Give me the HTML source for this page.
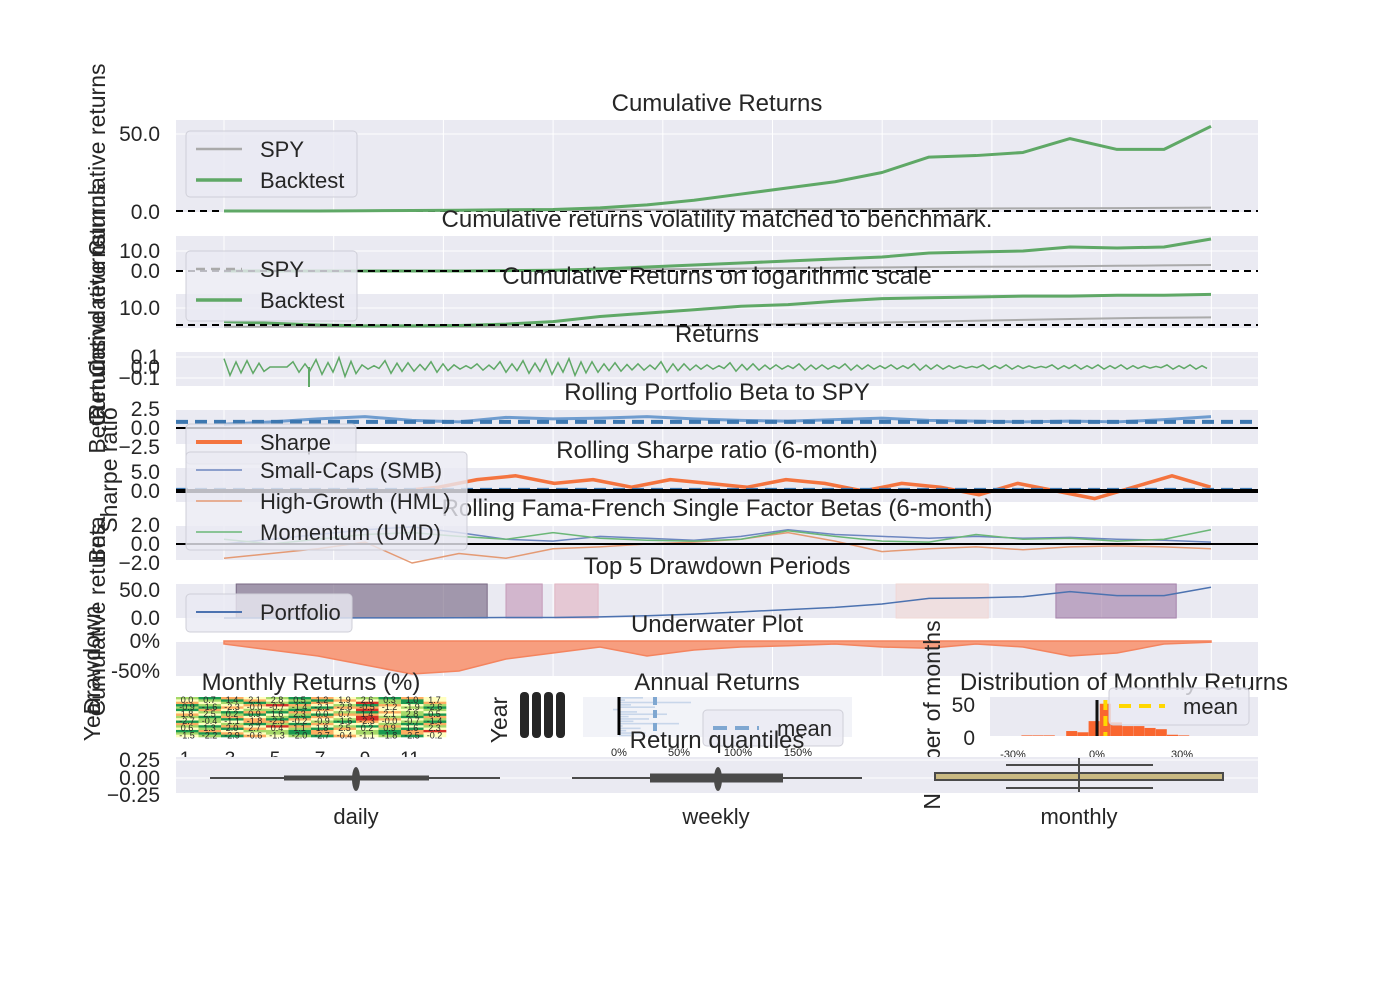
<!DOCTYPE html>
<html><head><meta charset="utf-8"><style>
html,body{margin:0;padding:0;background:#fff}
svg{display:block;font-family:"Liberation Sans",Arial,sans-serif}
</style></head><body>
<svg id="c" width="1400" height="993" viewBox="0 0 1400 993" xmlns="http://www.w3.org/2000/svg"></svg>
<script>
// ---- data ----
const cumBacktest=[0,0,0,0.2,0.3,0.5,0.8,1,2,4,7,11,15,19,25,35,36,38,47,40,40,55];
const cumSpy=[0,0.1,0.1,0.2,0.3,0.4,0.5,0.6,0.7,0.8,0.9,1,1.1,1.2,1.3,1.5,1.6,1.7,1.8,1.9,2,2.2];
const volBacktest=[0,0,0,0,0,0,0.2,0.4,1,2,3,4,5,6,7,9,9.5,10,12,11.5,12,16];
const volSpy=[0,0,0,0,0.1,0.2,0.3,0.4,0.6,0.8,1,1.2,1.4,1.6,1.8,2,2.1,2.2,2.4,2.6,2.8,3];
const logBacktest=[2,1,0,-0.5,-0.5,-0.3,0.5,2,5,7,9,11,12,14,15.5,16,16.5,17,17,17.5,17.5,18];
const logSpy=[-1,-1,-1,-1,-1,-1,-1,-1,-1,-0.8,-0.5,0,0.5,1,1.5,2,2.5,3,3.5,4,4.3,4.5];
const returnsAmp=[0.08,0.06,0,0.05,0.07,0.09,0.02,0.06,0.04,0.05,0.02,0.03,0.05,0.06,0.07,0.08,0.05,0.04,0.03,0.05,0.03,0.02,0.04,0.03,0.02,0.03,0.02,0.03,0.02,0.02,0.03,0.02,0.01,0.02,0.02,0.01,0.02,0.02,0.02,0.02,0.01,0.02,0.02];
const beta=[0.5,0.8,1.2,1.5,1.0,0.8,1.4,1.2,1.3,1.5,1.2,1.0,0.9,1.1,1.3,1.0,0.9,0.8,0.9,0.8,1.1,1.5];
const betaMean=0.8;
const sharpe=[0,1,3,4,2,3,1,3,2,1,3,2,0,2,1,-1,2,0,-2,1,4,1];
const sharpeMean=0.3;
const smb=[0,0.5,1,1.5,1.8,1.2,0.5,0.3,0.8,0.6,0.4,0.8,1.5,1,0.8,0.6,0.8,0.6,0.7,0.5,0.4,0.2];
const hml=[-1.5,-1,-0.5,0.2,-2,-1,-1.5,-0.5,-0.3,0,0.2,0.5,1.2,0.3,-0.8,-0.5,-0.3,-0.6,-0.3,-0.2,-0.3,-0.5];
const umd=[0.5,0,0.5,1,1.2,0.8,0.5,1.2,0.6,0.4,0.3,0.5,1.4,0.8,0.3,0.2,1,0.5,0.6,0.3,0.5,1.5];
const drawdownStart=[0.26,6.0,7.04,14.3,17.7];
const drawdownEnd=[5.6,6.77,7.96,16.26,20.26];
const underwater=[-5,-15,-25,-40,-55,-50,-30,-20,-10,-25,-15,-10,-8,-5,-10,-12,-5,-10,-25,-20,-5,-2];
const heatRows=["341234123412","234123412342","123434120341","432101234123","341223411234","412334120223","234141234132","123423411234","341234120341","234141230123","432112341234","123434122341","341201234123","234123412342","412334123410","341234123412","234123412342"];
const annualReturns=[20,5,60,10,30,-5,15,40,8,25,12,50,3,18,6,22,10];
const annualMean=30;
const histCenters=[-25,-21,-17,-13,-9,-5,-1,3,7,11,15,19,23,27,31];
const histCounts=[1,1,1,0,8,6,24,52,22,16,16,13,11,2,1];
const histMean=3;
// ---- helpers ----
const S=document.getElementById('c');const NS="http://www.w3.org/2000/svg";
function el(t,a,p){const e=document.createElementNS(NS,t);for(const k in a)e.setAttribute(k,a[k]);(p||S).appendChild(e);return e;}
function txt(x,y,s,sz,anchor,rot){const e=el('text',{x:x,y:y,'font-size':sz,fill:'#262626','text-anchor':anchor||'start'});if(rot)e.setAttribute('transform','rotate(-90 '+x+' '+y+')');e.textContent=s;return e;}
const X0=176,X1=1258;
const tx=i=>224+i*47;
function panel(name,y0,y1,grid){const g=el('g',{});
 el('rect',{x:X0,y:y0,width:X1-X0,height:y1-y0,fill:'#eaeaf2'},g);
 if(grid!==false)for(let i=0;i<10;i++){const x=224+i*109.7;el('line',{x1:x,x2:x,y1:y0,y2:y1,stroke:'#fff','stroke-width':1},g);}
 return g;}
function hgrid(g,ys){ys.forEach(y=>el('line',{x1:X0,x2:X1,y1:y,y2:y,stroke:'#fff'},g));}
function line(g,arr,ys,col,w,name,xf){const pts=arr.map((v,i)=>(xf||tx)(i)+','+ys(v)).join(' ');const p=el('polyline',{points:pts,fill:'none',stroke:col,'stroke-width':w,'stroke-linejoin':'round'},g);return p;}
function ticks(list){list.forEach(t=>txt(160,t[1]+7,t[0],21,'end'));}
function title(s,y,x){const t=txt(x||717,y,s,24,'middle');}
function legend(x,y,w,h,items){const g=el('g',{});
 el('rect',{x:x,y:y,width:w,height:h,rx:4,fill:'#eaeaf2','fill-opacity':0.8,stroke:'#cfcfd8'},g);
 items.forEach((it,i)=>{const yy=y+18+i*31;const l=el('line',{x1:x+10,x2:x+56,y1:yy,y2:yy,stroke:it[1],'stroke-width':it[2]},g);if(it[3])l.setAttribute('stroke-dasharray',it[3]);
 const t=txt(x+74,yy+8,it[0],22);});}
// ---- 1 cumulative ----
{const g=panel('cumulative-returns-panel',120,212);hgrid(g,[134]);const ys=v=>211-v*1.54;
 el('line',{x1:X0,x2:X1,y1:211,y2:211,stroke:'#000','stroke-width':2,'stroke-dasharray':'7,5'},g);
 line(g,cumSpy,ys,'#aaa',2,'spy-line');line(g,cumBacktest,ys,'#5fa866',3,'backtest-line');
 title('Cumulative Returns',111);ticks([['50.0',134],['0.0',212]]);
 legend(186,131,171,66,[['SPY','#aaa',2.5],['Backtest','#5fa866',3.5]]);}
// ---- 2 vol matched ----
{const g=panel('vol-matched-panel',236,270);hgrid(g,[251]);const ys=v=>271-v*2;
 line(g,volSpy,ys,'#aaa',2,'spy-vol-line');line(g,volBacktest,ys,'#5fa866',3,'backtest-vol-line');
 el('line',{x1:X0,x2:X1,y1:271,y2:271,stroke:'#000','stroke-width':2,'stroke-dasharray':'7,5'},g);
 title('Cumulative returns volatility matched to benchmark.',227);ticks([['10.0',251],['0.0',271]]);}
// ---- 3 log ----
{const g=panel('log-returns-panel',294,328);hgrid(g,[308]);const ys=v=>325-v*1.7;
 line(g,logSpy,ys,'#aaa',2,'spy-log-line');line(g,logBacktest,ys,'#5fa866',3,'backtest-log-line');
 el('line',{x1:X0,x2:X1,y1:325,y2:325,stroke:'#000','stroke-width':2,'stroke-dasharray':'7,5'},g);
 title('Cumulative Returns on logarithmic scale',284);ticks([['10.0',308]]);
 legend(186,251,171,70,[['SPY','#aaa',2.5,'9,6'],['Backtest','#5fa866',3.5]]);}
// ---- 4 returns ----
{const g=panel('returns-panel',352,386);hgrid(g,[357,378]);const ys=v=>367-v*105;const pts=[];
 returnsAmp.forEach((a,i)=>{const x=224+i*23;pts.push(x+','+ys(a));pts.push((x+6)+','+ys(-a));pts.push((x+12)+','+ys(a*0.6));pts.push((x+17)+','+ys(-a*0.7));});
 const p=el('polyline',{points:pts.join(' '),fill:'none',stroke:'#5fa866','stroke-width':1.5},g);
 el('line',{x1:309,x2:309,y1:367,y2:387,stroke:'#5fa866','stroke-width':2},g);
 title('Returns',342);ticks([['0.1',357],['0.0',367],['\u22120.1',378]]);}
// ---- 5 beta ----
{const g=panel('rolling-beta-panel',410,444);const ys=v=>428-v*7.6;
 line(g,beta,ys,'#6f9ccf',3,'beta-line');
 el('line',{x1:X0,x2:X1,y1:ys(betaMean),y2:ys(betaMean),stroke:'#3c77b0','stroke-width':4,'stroke-dasharray':'12,7'},g);
 el('line',{x1:X0,x2:X1,y1:428,y2:428,stroke:'#000','stroke-width':2},g);
 title('Rolling Portfolio Beta to SPY',400);ticks([['2.5',409],['0.0',428],['\u22122.5',447]]);}
// ---- 6 sharpe ----
{const g=panel('rolling-sharpe-panel',468,502);const ys=v=>491-v*3.8;
 line(g,sharpe,ys,'#f4743f',3.5,'sharpe-line',i=>400+i*38.6);
 el('line',{x1:X0,x2:X1,y1:ys(sharpeMean),y2:ys(sharpeMean),stroke:'#3c77b0','stroke-width':4,'stroke-dasharray':'12,7'},g);
 el('line',{x1:X0,x2:X1,y1:491,y2:491,stroke:'#000','stroke-width':4},g);
 title('Rolling Sharpe ratio (6-month)',458);ticks([['5.0',472],['0.0',491]]);}
// ---- 7 fama french ----
{const g=panel('fama-french-panel',526,560);const ys=v=>544-v*9.5;
 line(g,smb,ys,'#6d86c0',1.5,'smb-line');line(g,hml,ys,'#e49a74',1.5,'hml-line');line(g,umd,ys,'#6bb777',1.5,'umd-line');
 el('line',{x1:X0,x2:X1,y1:544,y2:544,stroke:'#000','stroke-width':2},g);
 title('Rolling Fama-French Single Factor Betas (6-month)',516);ticks([['2.0',525],['0.0',544],['\u22122.0',563]]);
 legend(186,424,170,40,[['Sharpe','#f4743f',4]]);
 legend(186,452,281,98,[['Small-Caps (SMB)','#6d86c0',1.5],['High-Growth (HML)','#e49a74',1.5],['Momentum (UMD)','#6bb777',1.5]]);}
// ---- 8 drawdown periods ----
{const g=panel('drawdown-periods-panel',584,618);const cols=['#7a6a85','#c49ab8','#e2b6c3','#f1d8d6','#a582ab'];const ys=v=>618-v*0.56;
 drawdownStart.forEach((s,i)=>{const r=el('rect',{x:tx(s),y:584,width:tx(drawdownEnd[i])-tx(s),height:34,fill:cols[i],'fill-opacity':0.65,stroke:cols[i]},g);});
 line(g,cumBacktest,ys,'#4c72b0',1.5,'portfolio-line');
 title('Top 5 Drawdown Periods',574);ticks([['50.0',590],['0.0',618]]);
 legend(186,594,166,38,[['Portfolio','#4c72b0',2]]);}
// ---- 9 underwater ----
{const g=panel('underwater-panel',642,676);const ys=v=>641-v*0.6;
 const pts=underwater.map((v,i)=>tx(i)+','+ys(v)).join(' ');
 const a=el('polygon',{points:'224,641 '+pts+' 1211,641',fill:'#f79e7f',stroke:'#f4845f','stroke-width':1.5},g);
 title('Underwater Plot',632);ticks([['0%',641],['-50%',671]]);}
// ---- 10 heatmap ----
{const g=el('g',{});
 const pal=['#d73027','#fdae61','#ffffbf','#a6d96a','#1a9850'];const cw=270/12,ch=40/17;
 heatRows.forEach((r,ri)=>{for(let c=0;c<12;c++)el('rect',{x:176+c*cw,y:697+ri*ch,width:cw+0.3,height:ch+0.3,fill:pal[+r[c]]},g);});
 for(let ri=0;ri<17;ri+=3)for(let c=0;c<12;c++)txt(176+c*cw+11,700+ri*ch+3,(ri%2?'-':'')+((c*7+ri*3)%30/10).toFixed(1),9,'middle');
 title('Monthly Returns (%)',690,311);
 ['1','3','5','7','9','11'].forEach((s,i)=>txt(185+i*45,765,s,19,'middle'));
 txt(100,718,'Year',23,'middle',true);}
// ---- annual ----
{const g=el('g',{});
 el('rect',{x:583,y:697,width:269,height:40,fill:'#f2f3f8'},g);
 const xs=v=>619+v*1.2;
 annualReturns.forEach((v,i)=>{const r=el('rect',{x:Math.min(xs(0),xs(v)),y:697+i*2.35,width:Math.abs(v*1.2),height:1.6,fill:'#c8d6ea'},g);});
 el('line',{x1:619,x2:619,y1:697,y2:735,stroke:'#000','stroke-width':3},g);
 el('line',{x1:xs(annualMean),x2:xs(annualMean),y1:697,y2:737,stroke:'#7fa7d1','stroke-width':4,'stroke-dasharray':'8,5'},g);
 title('Annual Returns',690);txt(507,720,'Year',23,'middle',true);
 for(let i=0;i<4;i++)el('rect',{x:520+i*12,y:692,width:9,height:46,rx:4,fill:'#262626'},g);
 legend(703,710,140,36,[['mean','#7fa7d1',4,'14,8']]);
 txt(619,756,'0%',11,'middle');txt(679,756,'50%',11,'middle');txt(738,756,'100%',11,'middle');txt(798,756,'150%',11,'middle');}
// ---- distribution ----
{const g=el('g',{});
 el('rect',{x:990,y:697,width:268,height:39,fill:'#eaeaf2'},g);
 const xs=v=>1097+v*2.8,ys=v=>736-v*0.62;
 histCenters.forEach((c,i)=>{const r=el('rect',{x:xs(c)-5.6,y:ys(histCounts[i]),width:11,height:histCounts[i]*0.62,fill:'#f9662f'},g);});
 el('line',{x1:xs(0),x2:xs(0),y1:700,y2:736,stroke:'#111','stroke-width':3},g);
 el('line',{x1:xs(histMean),x2:xs(histMean),y1:700,y2:736,stroke:'#ffd700','stroke-width':4,'stroke-dasharray':'10,6'},g);
 txt(975,712,'50',21,'end');txt(975,745,'0',21,'end');
 title('Distribution of Monthly Returns',690,1124);
 legend(1109,688,140,37,[['mean','#ffd700',4,'12,8']]);
 txt(1013,758,'-30%',11,'middle');txt(1097,758,'0%',11,'middle');txt(1182,758,'30%',11,'middle');
 txt(940,715,'Number of months',23,'middle',true);}
// ---- quantiles ----
{const g=panel('return-quantiles-panel',757,793,false);hgrid(g,[760,778]);
 function box(cx,w0,w1,b0,b1,bh,fill,name){const bg=el('g',{},g);
  el('line',{x1:w0,x2:w1,y1:778,y2:778,stroke:'#4a4a4a','stroke-width':2},bg);
  el('rect',{x:b0,y:778-bh/2,width:b1-b0,height:bh,fill:fill,stroke:'#4a4a4a','stroke-width':2},bg);
  el('ellipse',{cx:cx,cy:779,rx:4,ry:12,fill:'#4a4a4a'},bg);}
 box(356,210,500,285,428,3,'#4a4a4a','daily-box');box(718,572,862,651,782,7,'#4a4a4a','weekly-box');
 const m=el('g',{},g);
 el('rect',{x:935,y:773,width:288,height:7,fill:'#c9b982',stroke:'#4a4a4a','stroke-width':2},m);
 el('line',{x1:1006,x2:1153,y1:765,y2:765,stroke:'#4a4a4a','stroke-width':2},m);
 el('line',{x1:1006,x2:1153,y1:788,y2:788,stroke:'#4a4a4a','stroke-width':2},m);
 el('line',{x1:1079,x2:1079,y1:758,y2:792,stroke:'#4a4a4a','stroke-width':2},m);
 title('Return quantiles',748);ticks([['0.25',760],['0.00',778],['\u22120.25',795]]);
 txt(356,824,'daily',22,'middle');txt(716,824,'weekly',22,'middle');txt(1079,824,'monthly',22,'middle');}
// ---- y-axis labels (overlapping) ----
[['Cumulative returns',105,160],['Cumulative returns',105,280],['Cumulative returns',105,330],['Returns',105,380],['Beta',105,430],['Sharpe ratio',117,470],['Beta',105,540],['Cumulative returns',105,620],['Drawdown',100,660]].forEach(a=>{const t=txt(a[1],a[2],a[0],23,'middle',true);});
</script>
</body></html>
